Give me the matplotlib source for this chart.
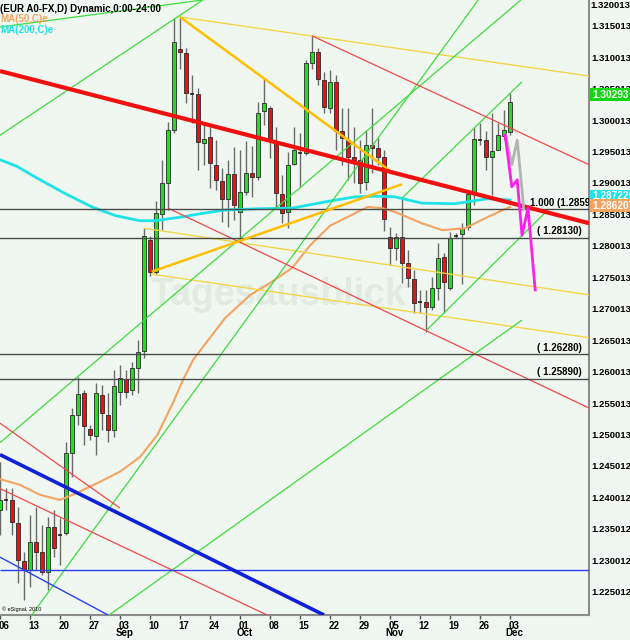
import numpy as np
import pandas as pd
import matplotlib
matplotlib.use("Agg")
import matplotlib.pyplot as plt
from matplotlib.transforms import ScaledTranslation, blended_transform_factory

plt.rcParams['font.family'] = ['Liberation Sans', 'DejaVu Sans']
plt.rcParams['font.weight'] = 'bold'

# EUR A0-FX daily bars, 06 Aug - 03 Dec
dates = pd.bdate_range("2012-08-06", "2012-12-03")

opens = [1.2380, 1.2396, 1.2396, 1.2359, 1.2299, 1.2285, 1.2329, 1.2313, 1.2282, 1.2353,
         1.2340, 1.2344, 1.2471, 1.2531, 1.2566, 1.2509, 1.2498, 1.2563, 1.2531, 1.2507,
         1.2568, 1.2588, 1.2571, 1.2606, 1.2633, 1.2809, 1.2759, 1.2851, 1.2900, 1.2984,
         1.3113, 1.3107, 1.3042, 1.3042, 1.2964, 1.2973, 1.2929, 1.2903, 1.2875, 1.2914,
         1.2854, 1.2886, 1.2916, 1.2910, 1.3015, 1.3019, 1.2964, 1.2883, 1.2854, 1.2930,
         1.2948, 1.2948, 1.3091, 1.3108, 1.3064, 1.3019, 1.3061, 1.2983, 1.2968, 1.2941,
         1.2937, 1.2902, 1.2960, 1.2956, 1.2941, 1.2814, 1.2797, 1.2814, 1.2773, 1.2747,
         1.2711, 1.2711, 1.2703, 1.2733, 1.2782, 1.2733, 1.2816, 1.2819, 1.2830, 1.2884,
         1.2968, 1.2968, 1.2941, 1.2953, 1.2975, 1.2981]
highs = [1.2456, 1.2415, 1.2415, 1.2385, 1.2313, 1.2372, 1.2385, 1.2356, 1.2369, 1.2380,
         1.2367, 1.2488, 1.2542, 1.2592, 1.2571, 1.2515, 1.2582, 1.2579, 1.2566, 1.2603,
         1.2611, 1.2603, 1.2615, 1.2650, 1.2828, 1.2816, 1.2871, 1.2937, 1.2997, 1.3162,
         1.3166, 1.3115, 1.3072, 1.3051, 1.2992, 1.2989, 1.2968, 1.2924, 1.2937, 1.2957,
         1.2953, 1.2967, 1.2959, 1.3029, 1.3067, 1.3022, 1.2989, 1.2913, 1.2949, 1.2989,
         1.2980, 1.3096, 1.3135, 1.3115, 1.3077, 1.3080, 1.3072, 1.3019, 1.3019, 1.2989,
         1.2968, 1.2984, 1.3019, 1.2972, 1.2953, 1.2830, 1.2821, 1.2878, 1.2794, 1.2762,
         1.2730, 1.2730, 1.2751, 1.2805, 1.2789, 1.2822, 1.2821, 1.2836, 1.2889, 1.2989,
         1.2995, 1.2983, 1.3011, 1.2995, 1.3016, 1.3043]
lows = [1.2340, 1.2380, 1.2340, 1.2264, 1.2237, 1.2258, 1.2285, 1.2277, 1.2253, 1.2305,
        1.2293, 1.2340, 1.2433, 1.2515, 1.2483, 1.2491, 1.2468, 1.2507, 1.2488, 1.2496,
        1.2547, 1.2558, 1.2563, 1.2566, 1.2622, 1.2752, 1.2754, 1.2825, 1.2857, 1.2980,
        1.3081, 1.3027, 1.2995, 1.2921, 1.2929, 1.2892, 1.2889, 1.2838, 1.2830, 1.2841,
        1.2811, 1.2881, 1.2878, 1.2905, 1.2992, 1.2940, 1.2860, 1.2836, 1.2828, 1.2929,
        1.2894, 1.2945, 1.3081, 1.3056, 1.3011, 1.3011, 1.2953, 1.2929, 1.2905, 1.2900,
        1.2884, 1.2889, 1.2916, 1.2929, 1.2824, 1.2770, 1.2778, 1.2741, 1.2735, 1.2693,
        1.2693, 1.2663, 1.2698, 1.2714, 1.2693, 1.2730, 1.2813, 1.2739, 1.2825, 1.2865,
        1.2960, 1.2921, 1.2881, 1.2953, 1.2968, 1.2976]
closes = [1.2396, 1.2394, 1.2361, 1.2301, 1.2285, 1.2329, 1.2313, 1.2282, 1.2353, 1.2320,
          1.2341, 1.2471, 1.2531, 1.2565, 1.2514, 1.2499, 1.2566, 1.2534, 1.2507, 1.2577,
          1.2590, 1.2568, 1.2606, 1.2631, 1.2816, 1.2759, 1.2852, 1.2900, 1.2984, 1.3124,
          1.3108, 1.3043, 1.3041, 1.2965, 1.2970, 1.2932, 1.2905, 1.2875, 1.2914, 1.2865,
          1.2886, 1.2916, 1.2910, 1.3011, 1.3027, 1.2967, 1.2884, 1.2852, 1.2929, 1.2953,
          1.2949, 1.3091, 1.3108, 1.3065, 1.3021, 1.3061, 1.2983, 1.2972, 1.2941, 1.2937,
          1.2900, 1.2960, 1.2956, 1.2941, 1.2843, 1.2797, 1.2814, 1.2773, 1.2749, 1.2709,
          1.2709, 1.2703, 1.2733, 1.2781, 1.2743, 1.2813, 1.2815, 1.2828, 1.2883, 1.2970,
          1.2970, 1.2941, 1.2951, 1.2976, 1.2984, 1.3029]

# moving averages (bar index, value)
ma50_x = [0, 3.3, 6.7, 10, 12.8, 16.7, 20, 23.3, 26.2, 28.8, 30.5, 32.2, 37.5, 41.7, 45,
          48.7, 51.7, 55, 59.2, 61.3, 63.7, 65.8, 70.3, 73.7, 77.5, 81.3, 85]
ma50_y = [1.2429, 1.2420, 1.2404, 1.2396, 1.2407, 1.2425, 1.2441, 1.2464, 1.2499, 1.2550,
          1.2587, 1.2619, 1.2685, 1.2722, 1.2741, 1.2765, 1.2801, 1.2832, 1.2852, 1.2862,
          1.2860, 1.2854, 1.2836, 1.2825, 1.2828, 1.2846, 1.2862]
ma200_x = [0, 2.7, 6.7, 10.7, 15.3, 19.3, 23.3, 25.8, 30.3, 33.3, 37.5, 43, 48.7, 54.2,
           59.2, 62.5, 65.8, 70.3, 75.8, 81.3, 85]
ma200_y = [1.2937, 1.2927, 1.2905, 1.2884, 1.2862, 1.2848, 1.2840, 1.2840, 1.2846, 1.2851,
           1.2857, 1.2859, 1.2860, 1.2870, 1.2878, 1.2879, 1.2878, 1.2868, 1.2867, 1.2875,
           1.2873]

# drawn trend lines: (bar0, price0, bar1, price1)
red_thick = [(0, 1.3078, 98.2, 1.2836)]
red_thin = [(52, 1.3134, 98.2, 1.2929), (28, 1.2860, 98.2, 1.2542),
            (0, 1.2414, 44.5, 1.2213), (0, 1.2518, 20, 1.2383)]
blue_thick = [(0, 1.2468, 54, 1.2213)]
blue_thin = [(0, 1.2305, 18, 1.2213), (0, 1.2285, 98.2, 1.2285)]
green_lines = [(0, 1.2487, 86.8, 1.3191), (5.3, 1.2213, 79.7, 1.3191),
               (18.2, 1.2213, 87, 1.2682), (0, 1.3148, 33.8, 1.3191),
               (0, 1.2976, 33.8, 1.3191), (67, 1.2876, 87, 1.3061),
               (71, 1.2665, 91.3, 1.2857)]
gold_lines = [(30, 1.3164, 65.5, 1.2916), (25.3, 1.2759, 67, 1.2898)]
yellow_thin = [(30, 1.3164, 98.2, 1.3070), (24, 1.2828, 98.2, 1.2722),
               (25.3, 1.2755, 98.2, 1.2654)]

levels = [1.2859, 1.2813, 1.2628, 1.2589]
level_labels = ["1.000 (1.28590)", "( 1.28130)", "( 1.26280)", "( 1.25890)"]

# projections
magenta_x = [84.2, 85.3, 86.2, 87, 88, 89.2]
magenta_y = [1.2976, 1.2894, 1.2905, 1.2817, 1.2860, 1.2730]
gray_x = [84.3, 85.3, 86.2, 87.3]
gray_y = [1.2976, 1.2929, 1.2968, 1.2859]

yticks = [1.225012, 1.230012, 1.235012, 1.240012, 1.245012, 1.250013, 1.255013, 1.260013,
          1.265013, 1.270013, 1.275013, 1.280013, 1.285013, 1.290013, 1.295013, 1.300013,
          1.305013, 1.310013, 1.315013]

bg = '#F0F7F0'
fig = plt.figure(figsize=(6.3, 6.4), dpi=100, facecolor=bg)
ax = fig.add_axes([0, 25 / 640, 589 / 630, 615 / 640], facecolor=bg)

x = np.arange(len(opens))
o = np.array(opens)
h = np.array(highs)
l = np.array(lows)
c = np.array(closes)

ax.text(46.5, 1.2722, "Tagesausblick", fontsize=27, color='#E1EBE1', ha='center',
        va='center', zorder=0.5)
ax.text(68, 1.2735, "24", fontsize=6, color='#E1EBE1', ha='center', va='center', zorder=0.5)

# candles
ax.vlines(x, l, h, color='#6A6A6A', lw=1, zorder=2)
up = c > o
body_lo = np.minimum(o, c)
body_h = np.abs(c - o)
doji = body_h < 0.00025
ax.bar(x[up & ~doji], body_h[up & ~doji], bottom=body_lo[up & ~doji], width=0.72,
       color='#1EE01E', edgecolor='#2A2A2A', lw=0.6, zorder=3)
ax.bar(x[~up & ~doji], body_h[~up & ~doji], bottom=body_lo[~up & ~doji], width=0.72,
       color='#EE1010', edgecolor='#2A2A2A', lw=0.6, zorder=3)
ax.hlines(o[doji], x[doji] - 0.4, x[doji] + 0.4, color='#202020', lw=1.2, zorder=3)

# moving averages
ax.plot(ma200_x, ma200_y, color='#1EE3E8', lw=2, zorder=4)
ax.plot(ma50_x, ma50_y, color='#F4A460', lw=1.5, zorder=4)


def draw(lines, **kw):
    for x0, p0, x1, p1 in lines:
        ax.plot([x0, x1], [p0, p1], solid_capstyle='butt', **kw)


draw(yellow_thin, color='#F2D64A', lw=1, zorder=4)
draw(green_lines, color='#3EDC3E', lw=0.9, zorder=4)
draw(red_thin, color='#F04848', lw=0.9, zorder=4)
draw(blue_thin, color='#2E3EF0', lw=1, zorder=4)
draw(gold_lines, color='#FFBE00', lw=1.8, zorder=5)
draw(blue_thick, color='#1020D8', lw=2.6, zorder=5)
draw(red_thick, color='#F01010', lw=3, zorder=5)

for lev, lab in zip(levels, level_labels):
    ax.axhline(lev, color='#4A4A4A', lw=1, zorder=4)
    xs = 88.3 if lab.startswith("1.000") else 89.5
    ax.text(xs, lev + 0.0002, lab, fontsize=7, color='black', ha='left', va='bottom',
            clip_on=True, zorder=6)

ax.plot(gray_x, gray_y, color='#B4B4B4', lw=2, zorder=6)
ax.plot(magenta_x, magenta_y, color='#FF1EEA', lw=2, zorder=6)

ax.set_xlim(0, 589 / 6)
ax.set_ylim(1.2213, 1.3191)

# axes look
for s in ['left', 'top']:
    ax.spines[s].set_visible(False)
for s in ['right', 'bottom']:
    ax.spines[s].set_color('#8C8C8C')
    ax.spines[s].set_linewidth(1.5)

ax.yaxis.tick_right()
ax.set_yticks(yticks)
ax.set_yticklabels(["%.6f" % v for v in yticks])
ax.tick_params(axis='y', length=0, pad=1.5, labelsize=6.8)
ax.text(1.003, 1 - 6 / 615, "1.320013", transform=ax.transAxes, fontsize=6.8,
        ha='left', va='center')

tick_pos = list(range(0, len(dates), 5))
ax.set_xticks(tick_pos)
ax.set_xticklabels([dates[i].strftime("%d") for i in tick_pos])
ax.tick_params(axis='x', length=3, width=1, color='#505050', pad=1, labelsize=7)
offset = ScaledTranslation(4 / 100, 0, fig.dpi_scale_trans)
for lbl in ax.get_xticklabels():
    lbl.set_transform(lbl.get_transform() + offset)

trans = blended_transform_factory(ax.transData, ax.transAxes)
for i in tick_pos[1:]:
    if dates[i].day <= 7:
        ax.text(i + 0.7, -0.029, dates[i].strftime("%b"), transform=trans, fontsize=7,
                ha='center', va='center')

# header / legend
ax.text(0, 1.3185, "(EUR A0-FX,D) Dynamic,0:00-24:00", fontsize=7, color='black',
        ha='left', va='top', zorder=7)
ax.text(0, 1.3168, "MA(50,C)e", fontsize=7, color='#F4A460', ha='left', va='top', zorder=7)
ax.text(0, 1.3151, "MA(200,C)e", fontsize=7, color='#1EE3E8', ha='left', va='top', zorder=7)
ax.text(0.3, 1.2222, "\u00a9 eSignal, 2010", fontsize=4, color='black', weight='normal',
        ha='left', va='center', zorder=7)

# price tags on the right axis
ytr = blended_transform_factory(ax.transAxes, ax.transData)
tags = [(1.2879, "1.287229", '#1EE3E8'), (1.2864, "1.286207", '#F4A460'),
        (1.3040, "1.30293", '#10D810')]
for p, s, col in tags:
    ax.text(1.005, p, s, transform=ytr, fontsize=7.3, color='white', ha='left', va='center',
            bbox=dict(boxstyle='square,pad=0.15', fc=col, ec='none'), clip_on=False, zorder=8)

fig.savefig("out.png", dpi=100, facecolor=bg)
